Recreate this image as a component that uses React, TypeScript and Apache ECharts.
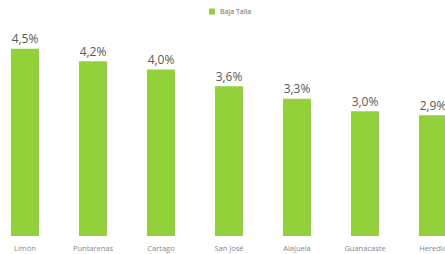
import React, { useEffect, useRef } from "react";
import * as echarts from "echarts";

const categories = ["Limón", "Puntarenas", "Cartago", "San José", "Alajuela", "Guanacaste", "Heredia"];
const values = [4.5, 4.2, 4.0, 3.6, 3.3, 3.0, 2.9];
const seriesName = "Baja Talla";

export default function App() {
  const ref = useRef<HTMLDivElement>(null);
  useEffect(() => {
    if (!ref.current) return;
    const chart = echarts.init(ref.current, null, { renderer: "svg" });
    chart.setOption({
      animation: false,
      backgroundColor: "#ffffff",
      legend: {
        show: true,
        top: 3,
        left: 213,
        itemWidth: 6,
        itemHeight: 6,
        itemGap: 4,
        icon: "rect",
        textStyle: { fontFamily: "Open Sans", fontSize: 7, color: "#666666" },
        data: [seriesName],
      },
      grid: { left: 0, right: 0, top: 28, bottom: 18, containLabel: false },
      xAxis: {
        type: "category",
        data: categories,
        axisLine: { show: false },
        axisTick: { show: false },
        axisLabel: {
          fontFamily: "Open Sans",
          fontSize: 7.5,
          color: "#888888",
          margin: 8,
          interval: 0,
        },
      },
      yAxis: {
        type: "value",
        min: 0,
        max: 5,
        show: false,
        splitLine: { show: false },
      },
      series: [
        {
          name: seriesName,
          type: "bar",
          data: values,
          barWidth: 28,
          itemStyle: { color: "#92D13A" },
          label: {
            show: true,
            position: "top",
            distance: 4,
            fontFamily: "Open Sans",
            fontSize: 12,
            color: "#595959",
            formatter: (p: any) => p.value.toFixed(1).replace(".", ",") + "%",
          },
        },
      ],
    });
    return () => chart.dispose();
  }, []);
  return (
    <div style={{ position: "fixed", left: 0, top: 0, width: 445, height: 254, overflow: "hidden", background: "#fff" }}>
      <div
        ref={ref}
        style={{ position: "absolute", left: -9, top: 0, width: 476, height: 254 }}
      />
    </div>
  );
}
